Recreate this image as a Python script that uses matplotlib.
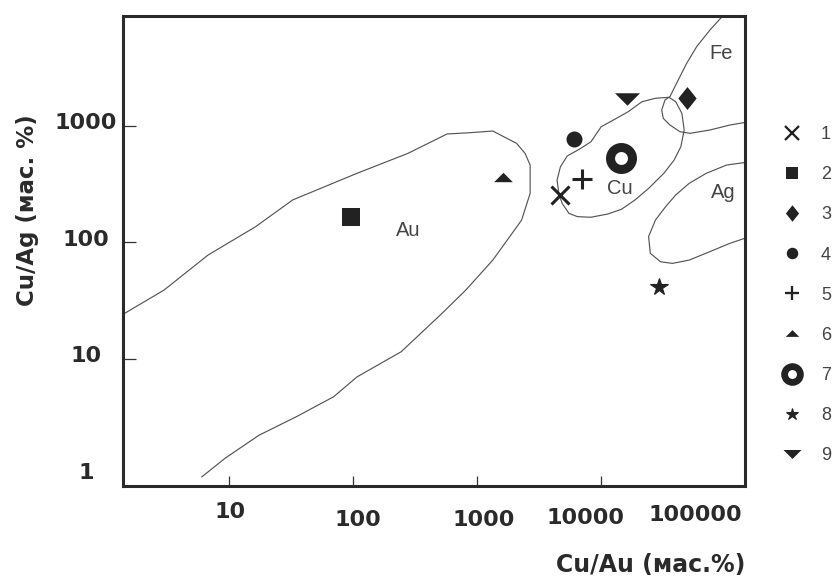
import matplotlib
matplotlib.use('Agg')
import matplotlib.pyplot as plt
from matplotlib.lines import Line2D

# ---------------- data ----------------
sample_ids = ['1', '2', '3', '4', '5', '6', '7', '8', '9']
cu_au = [4660, 97, 49400, 6050, 7020, 1620, 14500, 29200, 16300]
cu_ag = [255, 164, 1720, 770, 349, 366, 525, 41.5, 1690]

# field outlines (Cu/Au, Cu/Ag)
au_field_x = [1.3, 3.0, 6.8, 16.4, 32.7, 108, 278, 574, 865, 1343, 2085, 2443, 2685,
              2685, 2291, 1840, 1343, 813, 522, 245, 108, 69.8, 34.9, 17.5, 9.3, 6.05]
au_field_y = [23, 38.9, 77.8, 136, 231, 391, 580, 850, 871, 901, 707, 580, 460,
              263, 155, 112, 70.4, 38.9, 24.5, 11.5, 7.0, 4.72, 3.18, 2.21, 1.40, 0.97]

cu_field_x = [4571, 4426, 4713, 5346, 6871, 8303, 10040, 12880, 16600, 21380, 27480,
              35320, 40090, 44900, 46880, 44060, 38900, 32150, 24210, 18840, 14630,
              11380, 8303, 6457, 5520, 4864, 4571]
cu_field_y = [263, 342, 445, 550, 640, 729, 981, 1135, 1321, 1608, 1722,
              1755, 1608, 1279, 920, 661, 508, 391, 290, 231, 192,
              175, 164, 166, 177, 216, 263]

fe_field_x = [105700, 94620, 75680, 59100, 49110, 41980, 35980, 32810, 30900, 31790,
              35980, 43360, 52240, 75680, 109700, 140600, 159000]
fe_field_y = [9860, 8630, 6637, 4774, 3436, 2472, 1778, 1664, 1365, 1158,
              1015, 889, 861, 920, 1015, 1062, 1087]

ag_field_x = [159000, 103000, 70630, 51520, 40090, 33190, 27480, 24210, 25000, 30200,
              37670, 51520, 75300, 109700, 159000]
ag_field_y = [491, 460, 391, 321, 255, 202, 155, 112, 80.4, 68.1,
              65.9, 70.4, 83, 98, 112]

field_names = ['Au', 'Cu', 'Ag', 'Fe']
field_label_x = [278, 14200, 96400, 92900]
field_label_y = [125, 287, 270, 4210]

x_tick_values = [10, 100, 1000, 10000, 100000]
x_tick_labels = ['10', '100', '1000', '10000', '100000']
y_tick_values = [1, 10, 100, 1000]
y_tick_labels = ['1', '10', '100', '1000']

# ---------------- styles ----------------
INK = '#222222'
tri_up = [(-1, -0.5), (1, -0.5), (0, 0.5), (-1, -0.5)]
tri_down = [(-1, 0.5), (1, 0.5), (0, -0.5), (-1, 0.5)]
diamond = [(0, 1), (0.8, 0), (0, -1), (-0.8, 0), (0, 1)]

styles = [
    dict(marker='x', ms=13.5, mew=2.2, color=INK),
    dict(marker='s', ms=12.5, mew=0, color=INK),
    dict(marker=diamond, ms=16.5, mew=0, color=INK),
    dict(marker='o', ms=11.5, mew=0, color=INK),
    dict(marker='+', ms=14.5, mew=2.2, color=INK),
    dict(marker=tri_up, ms=13.5, mew=0, color=INK),
    dict(marker='o', ms=15.8, mew=6.5, mfc='white', mec=INK, color=INK),
    dict(marker='*', ms=13, mew=0.8, color=INK),
    dict(marker=tri_down, ms=18, mew=0, color=INK),
]

W, H = 837, 581
fig = plt.figure(figsize=(W / 100, H / 100), dpi=100)
ax = fig.add_axes([123 / W, 1 - 486 / H, (745 - 123) / W, (486 - 16) / H])
ax.set_xscale('log')
ax.set_yscale('log')
ax.set_xlim(1.40, 145000)
ax.set_ylim(0.81, 8750)

# field outlines
for fx, fy in [(au_field_x, au_field_y), (cu_field_x, cu_field_y),
               (fe_field_x, fe_field_y), (ag_field_x, ag_field_y)]:
    ax.plot(fx, fy, color='#555555', lw=0.85, zorder=1)

for name, lx, ly in zip(field_names, field_label_x, field_label_y):
    ax.text(lx, ly, name, ha='center', va='center', fontsize=14.5,
            family='Liberation Sans', color='#444444', zorder=2)

# points
for sid, x, y, st in zip(sample_ids, cu_au, cu_ag, styles):
    ax.plot([x], [y], linestyle='none', zorder=3, **st)

# spines and ticks
for sp in ax.spines.values():
    sp.set_linewidth(2.2)
    sp.set_color('#2a2a2a')
ax.minorticks_off()
ax.set_xticks(x_tick_values[:4])
ax.set_yticks(y_tick_values[1:])
ax.tick_params(axis='x', direction='in', length=7, width=0.9, color='#333333',
               labelbottom=False)
ax.tick_params(axis='y', direction='in', length=9, width=0.9, color='#333333',
               labelleft=False)

# staggered tick labels like the original
x_offsets = [(1, -26), (5, -34), (7, -34), (-15, -32), (-30, -29)]
for v, lab, (dx, dy) in zip(x_tick_values, x_tick_labels, x_offsets):
    ax.annotate(lab, xy=(v, 0), xycoords=('data', 'axes fraction'),
                xytext=(dx * 0.72, dy * 0.72), textcoords='offset points',
                ha='center', va='center', fontsize=16, fontweight='bold',
                family='DejaVu Sans', color='#2a2a2a', annotation_clip=False)
for v, lab in zip(y_tick_values, y_tick_labels):
    ax.annotate(lab, xy=(0, v), xycoords=('axes fraction', 'data'),
                xytext=(-37 * 0.72, 2), textcoords='offset points',
                ha='center', va='center', fontsize=16, fontweight='bold',
                family='DejaVu Sans', color='#2a2a2a', annotation_clip=False)

fig.text(745 / W, 1 - 565 / H, 'Cu/Au (мас.%)', ha='right', va='center',
         fontsize=17, fontweight='heavy', family='DejaVu Sans', color='#2a2a2a')
fig.text(28 / W, 1 - 210 / H, 'Cu/Ag (мас. %)', ha='center', va='center',
         rotation=90, fontsize=16.5, fontweight='heavy', family='DejaVu Sans',
         color='#2a2a2a')

# legend (smaller markers, numbers only)
handles = []
for st in styles:
    st2 = dict(st)
    st2['ms'] = st['ms'] * 0.72
    if st2.get('mew', 0) > 1:
        st2['mew'] = st['mew'] * 0.75
    handles.append(Line2D([], [], linestyle='none', **st2))
leg = fig.legend(handles, sample_ids, loc='upper left',
                 bbox_to_anchor=(766.8 / W, 1 - 110 / H), frameon=False,
                 prop={'family': 'Liberation Sans', 'size': 13},
                 handlelength=1.0, handletextpad=1.1, labelspacing=1.28,
                 borderpad=0.4)
for t in leg.get_texts():
    t.set_color('#444444')

fig.savefig('out.png', dpi=100)
